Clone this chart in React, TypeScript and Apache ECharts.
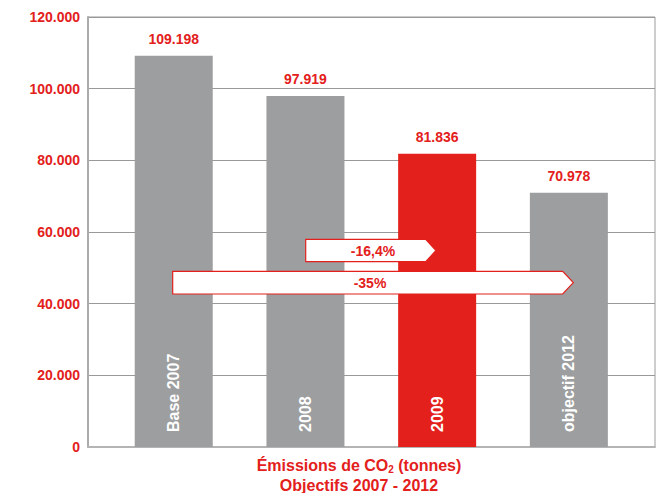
import React, { useEffect, useRef } from "react";
import * as echarts from "echarts";

// Category names, drawn inside the bars
const categories: string[] = ["Base 2007", "2008", "2009", "objectif 2012"];
// CO2 emissions in tonnes
const emissions: number[] = [109198, 97919, 81836, 70978];
// The highlighted (current year) bar
const highlightIndex = 2;
// Y-axis ticks
const yMin = 0;
const yMax = 120000;
const yStep = 20000;
// Reduction arrows
const arrowLabels: string[] = ["-16,4%", "-35%"];

const RED = "#e3201b";
const GREY = "#9d9ea0";
const FONT = "'Liberation Sans', Arial, Helvetica, sans-serif";

const fmt = (n: number): string =>
  n === 0 ? "0" : Math.round(n).toString().replace(/\B(?=(\d{3})+(?!\d))/g, ".");

export default function App() {
  const ref = useRef<HTMLDivElement>(null);

  useEffect(() => {
    if (!ref.current) return;
    const chart = echarts.init(ref.current, undefined, { renderer: "svg" });

    const barData = emissions.map((v, i) => ({
      value: [i, v],
      name: categories[i],
      itemStyle: { color: i === highlightIndex ? RED : GREY },
    }));

    const arrow = (pts: number[][]) => ({
      type: "polygon",
      z: 100,
      shape: { points: pts },
      style: { fill: "#ffffff", stroke: RED, lineWidth: 1.2 },
    });

    chart.setOption({
      animation: false,
      backgroundColor: "#ffffff",
      grid: { left: 88, right: 16, top: 17, bottom: 46, show: true, borderColor: "#9b9b9b", borderWidth: 1 },
      xAxis: {
        type: "value",
        min: -0.651,
        max: 3.654,
        axisLine: { show: true, onZero: false, lineStyle: { color: "#b4b4b4", width: 2 } },
        axisTick: { show: false },
        axisLabel: { show: false },
        splitLine: { show: false },
      },
      yAxis: {
        type: "value",
        min: yMin,
        max: yMax,
        interval: yStep,
        axisLine: { show: true, onZero: false, lineStyle: { color: "#ababab", width: 2 } },
        axisTick: { show: false },
        axisLabel: {
          color: RED,
          fontFamily: FONT,
          fontWeight: "bold",
          fontSize: 14,
          margin: 8,
          padding: [6, 0, 0, 0],
          formatter: (v: number) => fmt(v),
        },
        splitLine: { show: true, lineStyle: { color: "#999999", width: 1 } },
      },
      series: [
        {
          type: "bar",
          barWidth: 78,
          data: barData,
          emphasis: { disabled: true },
          label: {
            show: true,
            position: "top",
            distance: 10,
            color: RED,
            fontFamily: FONT,
            fontWeight: "bold",
            fontSize: 14,
            formatter: (p: any) => fmt(p.value[1]),
          },
        },
        {
          // category names, written upward from the foot of each bar
          type: "scatter",
          symbolSize: 0,
          z: 5,
          itemStyle: { color: "rgba(0,0,0,0)", opacity: 1 },
          emphasis: { disabled: true },
          data: categories.map((name, i) => ({ value: [i, 0], name })),
          label: {
            show: true,
            position: "top",
            distance: 15,
            rotate: 90,
            align: "left",
            verticalAlign: "middle",
            color: "#ffffff",
            opacity: 1,
            fontFamily: FONT,
            fontWeight: "bold",
            fontSize: 16,
            formatter: (p: any) => p.name,
          },
        },
      ],
      graphic: [
        arrow([[305.7, 239.3], [425.7, 239.3], [436, 250.5], [425.7, 261.7], [305.7, 261.7]]),
        {
          type: "text",
          z: 101,
          x: 373,
          y: 251,
          style: {
            text: arrowLabels[0],
            fill: RED,
            font: `bold 14px ${FONT}`,
            align: "center",
            verticalAlign: "middle",
          },
        },
        arrow([[172.7, 271.3], [562.7, 271.3], [573.3, 282.6], [562.7, 294], [172.7, 294]]),
        {
          type: "text",
          z: 101,
          x: 370,
          y: 283,
          style: {
            text: arrowLabels[1],
            fill: RED,
            font: `bold 14px ${FONT}`,
            align: "center",
            verticalAlign: "middle",
          },
        },
        {
          type: "text",
          z: 101,
          x: 359,
          y: 475,
          style: {
            text: "{a|Émissions de CO}{s|2}{a| (tonnes)}\n{a|Objectifs 2007 - 2012}",
            align: "center",
            verticalAlign: "middle",
            rich: {
              a: { fill: RED, fontFamily: FONT, fontWeight: "bold", fontSize: 16, lineHeight: 20 },
              s: { fill: RED, fontFamily: FONT, fontWeight: "bold", fontSize: 10, lineHeight: 20, padding: [9, 0, 0, 0] },
            },
          },
        },
      ],
    });

    return () => chart.dispose();
  }, []);

  return (
    <div
      ref={ref}
      style={{ position: "fixed", left: 0, top: 0, width: 671, height: 493, background: "#fff" }}
    />
  );
}
